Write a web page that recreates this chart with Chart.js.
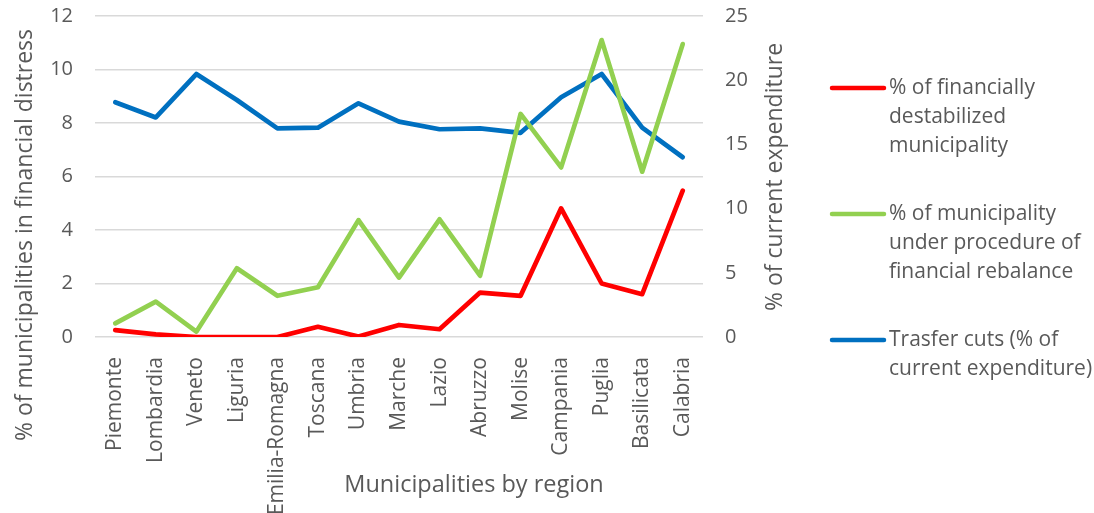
<!DOCTYPE html>
<html>
<head>
<meta charset="utf-8">
<script src="https://cdn.jsdelivr.net/npm/chart.js@4/dist/chart.umd.min.js"></script>
<style>
  html, body { margin: 0; padding: 0; background: #fff; }
  #wrap { position: relative; width: 1094px; height: 513px; }
</style>
</head>
<body>
<div id="wrap"><canvas id="chart" width="1094" height="513"></canvas></div>
<script>
// --- data ---
const regions = ['Piemonte', 'Lombardia', 'Veneto', 'Liguria', 'Emilia-Romagna', 'Toscana', 'Umbria',
  'Marche', 'Lazio', 'Abruzzo', 'Molise', 'Campania', 'Puglia', 'Basilicata', 'Calabria'];
const destabilized = [0.26, 0.1, 0.0, 0.0, 0.0, 0.38, 0.02, 0.45, 0.29, 1.66, 1.54, 4.81, 2.0, 1.6, 5.47];
const rebalance = [0.51, 1.32, 0.2, 2.57, 1.54, 1.86, 4.37, 2.22, 4.4, 2.29, 8.34, 6.34, 11.1, 6.18, 10.95];
const transferCuts = [18.28, 17.1, 20.48, 18.46, 16.25, 16.3, 18.2, 16.77, 16.18, 16.25, 15.9, 18.67, 20.48, 16.3, 14.0];

const seriesNames = ['% of financially destabilized municipality',
  '% of municipality under procedure of financial rebalance',
  'Trasfer cuts (% of current expenditure)'];
const legendLines = [
  ['% of financially', 'destabilized', 'municipality'],
  ['% of municipality', 'under procedure of', 'financial rebalance'],
  ['Trasfer cuts (% of', 'current expenditure)']
];
const leftTicks = [0, 2, 4, 6, 8, 10, 12];
const rightTicks = [0, 5, 10, 15, 20, 25];
const xTitle = 'Municipalities by region';
const leftTitle = '% of municipalities in financial distress';
const rightTitle = '% of current expenditure';

const FONT = '"Open Sans", sans-serif';
const GREY = '#595959';

// axis titles and the legend, drawn straight onto the canvas
const sideLegend = {
  id: 'sideLegend',
  afterDraw(chart) {
    const ctx = chart.ctx;
    ctx.save();
    ctx.fillStyle = GREY;
    ctx.textAlign = 'center';
    ctx.textBaseline = 'middle';

    ctx.font = '23.5px ' + FONT;
    ctx.fillText(xTitle, 474, 485);

    ctx.font = '23px ' + FONT;
    [[25, 235, leftTitle], [775, 177, rightTitle]].forEach(([x, y, text]) => {
      ctx.save();
      ctx.translate(x, y);
      ctx.rotate(-Math.PI / 2);
      ctx.fillText(text, 0, 0);
      ctx.restore();
    });

    const rows = [88, 214, 340];
    chart.data.datasets.forEach((ds, i) => {
      const y = rows[i];
      ctx.strokeStyle = ds.borderColor;
      ctx.lineWidth = 4.5;
      ctx.lineCap = 'round';
      ctx.beginPath();
      ctx.moveTo(832, y);
      ctx.lineTo(884, y);
      ctx.stroke();
      ctx.fillStyle = GREY;
      ctx.font = '21px ' + FONT;
      ctx.textAlign = 'left';
      legendLines[i].forEach((line, j) => {
        ctx.fillText(line, 889, y + j * 29);
      });
    });
    ctx.restore();
  }
};

function lineSet(label, data, color, axis) {
  return {
    label: label,
    data: data,
    borderColor: color,
    backgroundColor: color,
    borderWidth: 4.7,
    borderJoinStyle: 'round',
    borderCapStyle: 'round',
    pointRadius: 0,
    tension: 0,
    yAxisID: axis
  };
}

function noVerticalPadding(scale) {
  scale.paddingTop = 0;
  scale.paddingBottom = 0;
}

new Chart(document.getElementById('chart'), {
  type: 'line',
  data: {
    labels: regions,
    datasets: [
      lineSet(seriesNames[0], destabilized, '#ff0000', 'y'),
      lineSet(seriesNames[1], rebalance, '#92d050', 'y'),
      lineSet(seriesNames[2], transferCuts, '#0070c0', 'y1')
    ]
  },
  options: {
    responsive: false,
    animation: false,
    layout: { padding: { top: 16, right: 291, left: 0, bottom: 0 } },
    plugins: { legend: { display: false }, tooltip: { enabled: false } },
    scales: {
      x: {
        offset: true,
        grid: { display: false },
        border: { display: false },
        ticks: { color: GREY, font: { family: FONT, size: 21 }, minRotation: 90, maxRotation: 90, padding: 12, autoSkip: false },
        afterFit(scale) { scale.height = 176; }
      },
      y: {
        position: 'left',
        min: 0, max: 12,
        afterBuildTicks(scale) { scale.ticks = leftTicks.map(v => ({ value: v })); },
        grid: { color: '#d9d9d9', lineWidth: 1.5, drawTicks: false },
        border: { display: false },
        ticks: { color: GREY, font: { family: FONT, size: 20 }, padding: 22 },
        afterFit(scale) { scale.width = 95; noVerticalPadding(scale); }
      },
      y1: {
        position: 'right',
        min: 0, max: 25,
        afterBuildTicks(scale) { scale.ticks = rightTicks.map(v => ({ value: v })); },
        grid: { display: false, drawTicks: false },
        border: { display: false },
        ticks: { color: GREY, font: { family: FONT, size: 20 }, padding: 22 },
        afterFit(scale) { scale.width = 100; noVerticalPadding(scale); }
      }
    }
  },
  plugins: [sideLegend]
});
</script>
</body>
</html>
